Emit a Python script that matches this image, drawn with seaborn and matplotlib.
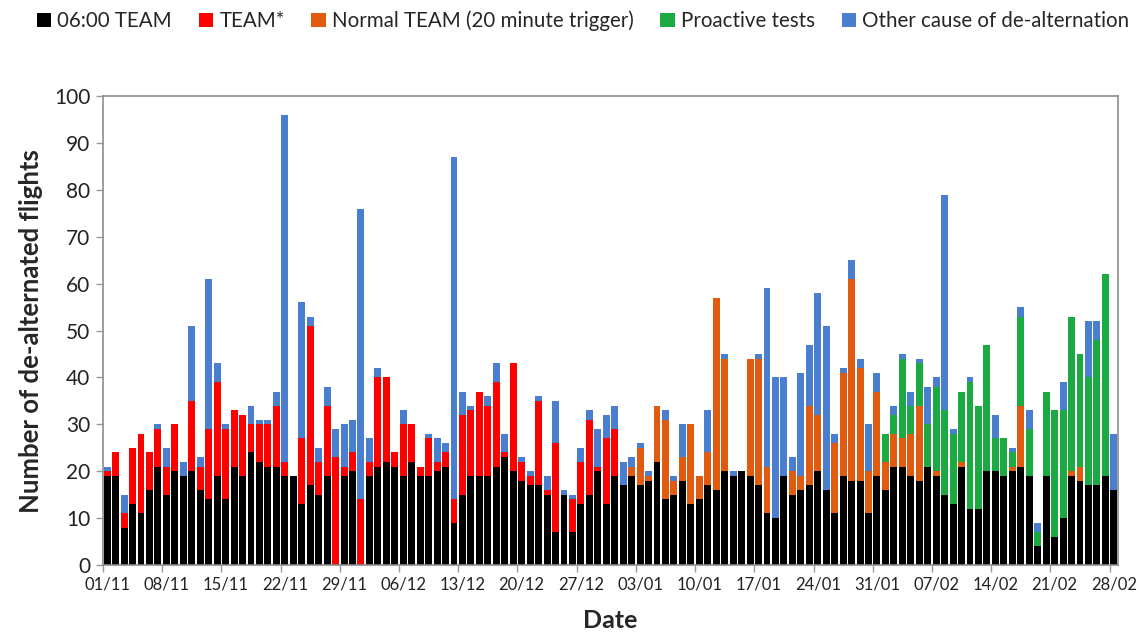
import numpy as np
import pandas as pd
import matplotlib
matplotlib.use("Agg")
import matplotlib.pyplot as plt
import seaborn as sns
from matplotlib.patches import Patch

# ---- data (one value per day, 01/11 .. 28/02) ----
team0600 = [19,19,8,13,11,16,21,15,20,19,20,16,14,19,14,21,19,24,22,21,
            21,19,19,13,17,15,19,0,19,20,0,19,21,22,21,19,22,19,19,20,
            21,9,15,19,19,19,21,23,20,18,17,17,15,7,15,7,13,15,20,13,
            19,17,19,17,18,22,14,15,18,13,14,17,16,20,19,20,19,17,11,10,
            19,15,16,17,20,16,11,19,18,18,11,19,16,21,21,19,18,21,19,15,
            13,21,12,12,20,20,19,20,21,19,4,19,6,10,19,18,17,17,19,16]
team_star = [1,5,3,12,17,8,8,6,10,0,15,5,15,20,15,12,13,6,8,9,
             13,3,0,14,34,7,15,23,2,4,14,3,19,18,3,11,8,2,8,2,
             3,5,17,14,18,15,18,1,23,4,2,18,1,19,0,7,9,16,1,14,
             10,0,0,0,0,0,0,0,0,0,0,0,0,0,0,0,0,0,0,0,
             0,0,0,0,0,0,0,0,0,0,0,0,0,0,0,0,0,0,0,0,
             0,0,0,0,0,0,0,0,0,0,0,0,0,0,0,0,0,0,0,0]
normal_team = [0]*62 + [2,8,1,12,17,3,5,17,5,7,41,24,0,0,25,27,10,0,0,5,
               3,17,12,0,15,22,43,24,9,18,6,7,6,9,16,0,1,0,0,1,
               0,0,0,0,0,1,13,0,0,0,0,0,1,3,0,0,0,0]
proactive = [0]*92 + [6,4,17,6,9,9,18,18,15,15,27,22,27,7,8,3,19,10,3,18,
                      27,23,33,24,23,31,43,0]
other = [1,0,4,0,0,0,1,4,0,3,16,2,32,4,1,0,0,4,1,1,
         3,74,0,29,2,3,4,6,9,7,62,5,2,0,0,3,0,0,1,5,
         2,73,5,1,0,2,4,4,0,1,1,1,3,9,1,1,3,2,8,5,
         5,5,2,1,1,0,2,1,7,0,0,9,0,1,1,0,0,1,38,30,
         21,3,22,13,26,35,2,1,4,2,10,4,0,2,1,3,1,8,2,46,
         1,0,1,0,0,5,0,1,2,4,2,0,0,6,0,0,12,4,0,12]

dates = pd.date_range("2021-11-01", "2022-02-28", freq="D")
day_labels = [d.strftime("%d/%m") for d in dates]

series_names = ["06:00 TEAM", "TEAM*", "Normal TEAM (20 minute trigger)",
                "Proactive tests", "Other cause of de-alternation"]
series_values = [team0600, team_star, normal_team, proactive, other]
colors = ["#000000", "#FF0000", "#E05A10", "#1BAA42", "#4A7ECF"]

cum = np.zeros(len(dates))
cums = []
for vals in series_values:
    cum = cum + np.array(vals, dtype=float)
    cums.append(cum.copy())

sns.set_theme(style="white")
plt.rcParams["font.family"] = ["Lato", "DejaVu Sans"]

fig = plt.figure(figsize=(11.39, 6.37), dpi=100)
ax = fig.add_axes([0.0904, 0.113, 0.8912, 0.736])

for name, c, col in reversed(list(zip(series_names, cums, colors))):
    d = pd.DataFrame({"day": np.arange(len(dates)), "v": c})
    sns.barplot(data=d, x="day", y="v", color=col, width=0.82,
                saturation=1, ax=ax, linewidth=0, edgecolor="none")

ax.set_xlim(-0.5, len(dates) - 0.5)
ax.set_ylim(0, 100)
ax.set_yticks(np.arange(0, 101, 10))
ax.tick_params(axis="y", labelsize=15, length=5, width=1, color="#999999",
               direction="out", left=True, pad=4, labelcolor="#222222")

tick_pos = np.arange(0, len(dates), 7)
ax.set_xticks(tick_pos)
ax.set_xticklabels([day_labels[i] for i in tick_pos])
ax.set_xticks(tick_pos - 0.5, minor=True)
ax.tick_params(axis="x", which="major", length=0, labelsize=12, pad=8,
               labelcolor="#222222")
ax.tick_params(axis="x", which="minor", length=5, width=1, color="#999999",
               direction="out", bottom=True)

for s in ax.spines.values():
    s.set_visible(True)
    s.set_color("#8c8c8c")
    s.set_linewidth(1.2)

ax.set_xlabel("Date", fontsize=18, fontweight="bold", labelpad=12)
ax.set_ylabel("Number of de-alternated flights", fontsize=18.5,
              fontweight="bold", labelpad=8)

handles = [Patch(facecolor=c, edgecolor="none") for c in colors]
fig.legend(handles, series_names, loc="upper center",
           bbox_to_anchor=(0.512, 1.012), ncol=5, frameon=False,
           fontsize=14.8, handlelength=0.7, handleheight=0.7,
           handletextpad=0.3, columnspacing=1.3)

fig.savefig("out.png", dpi=100)
